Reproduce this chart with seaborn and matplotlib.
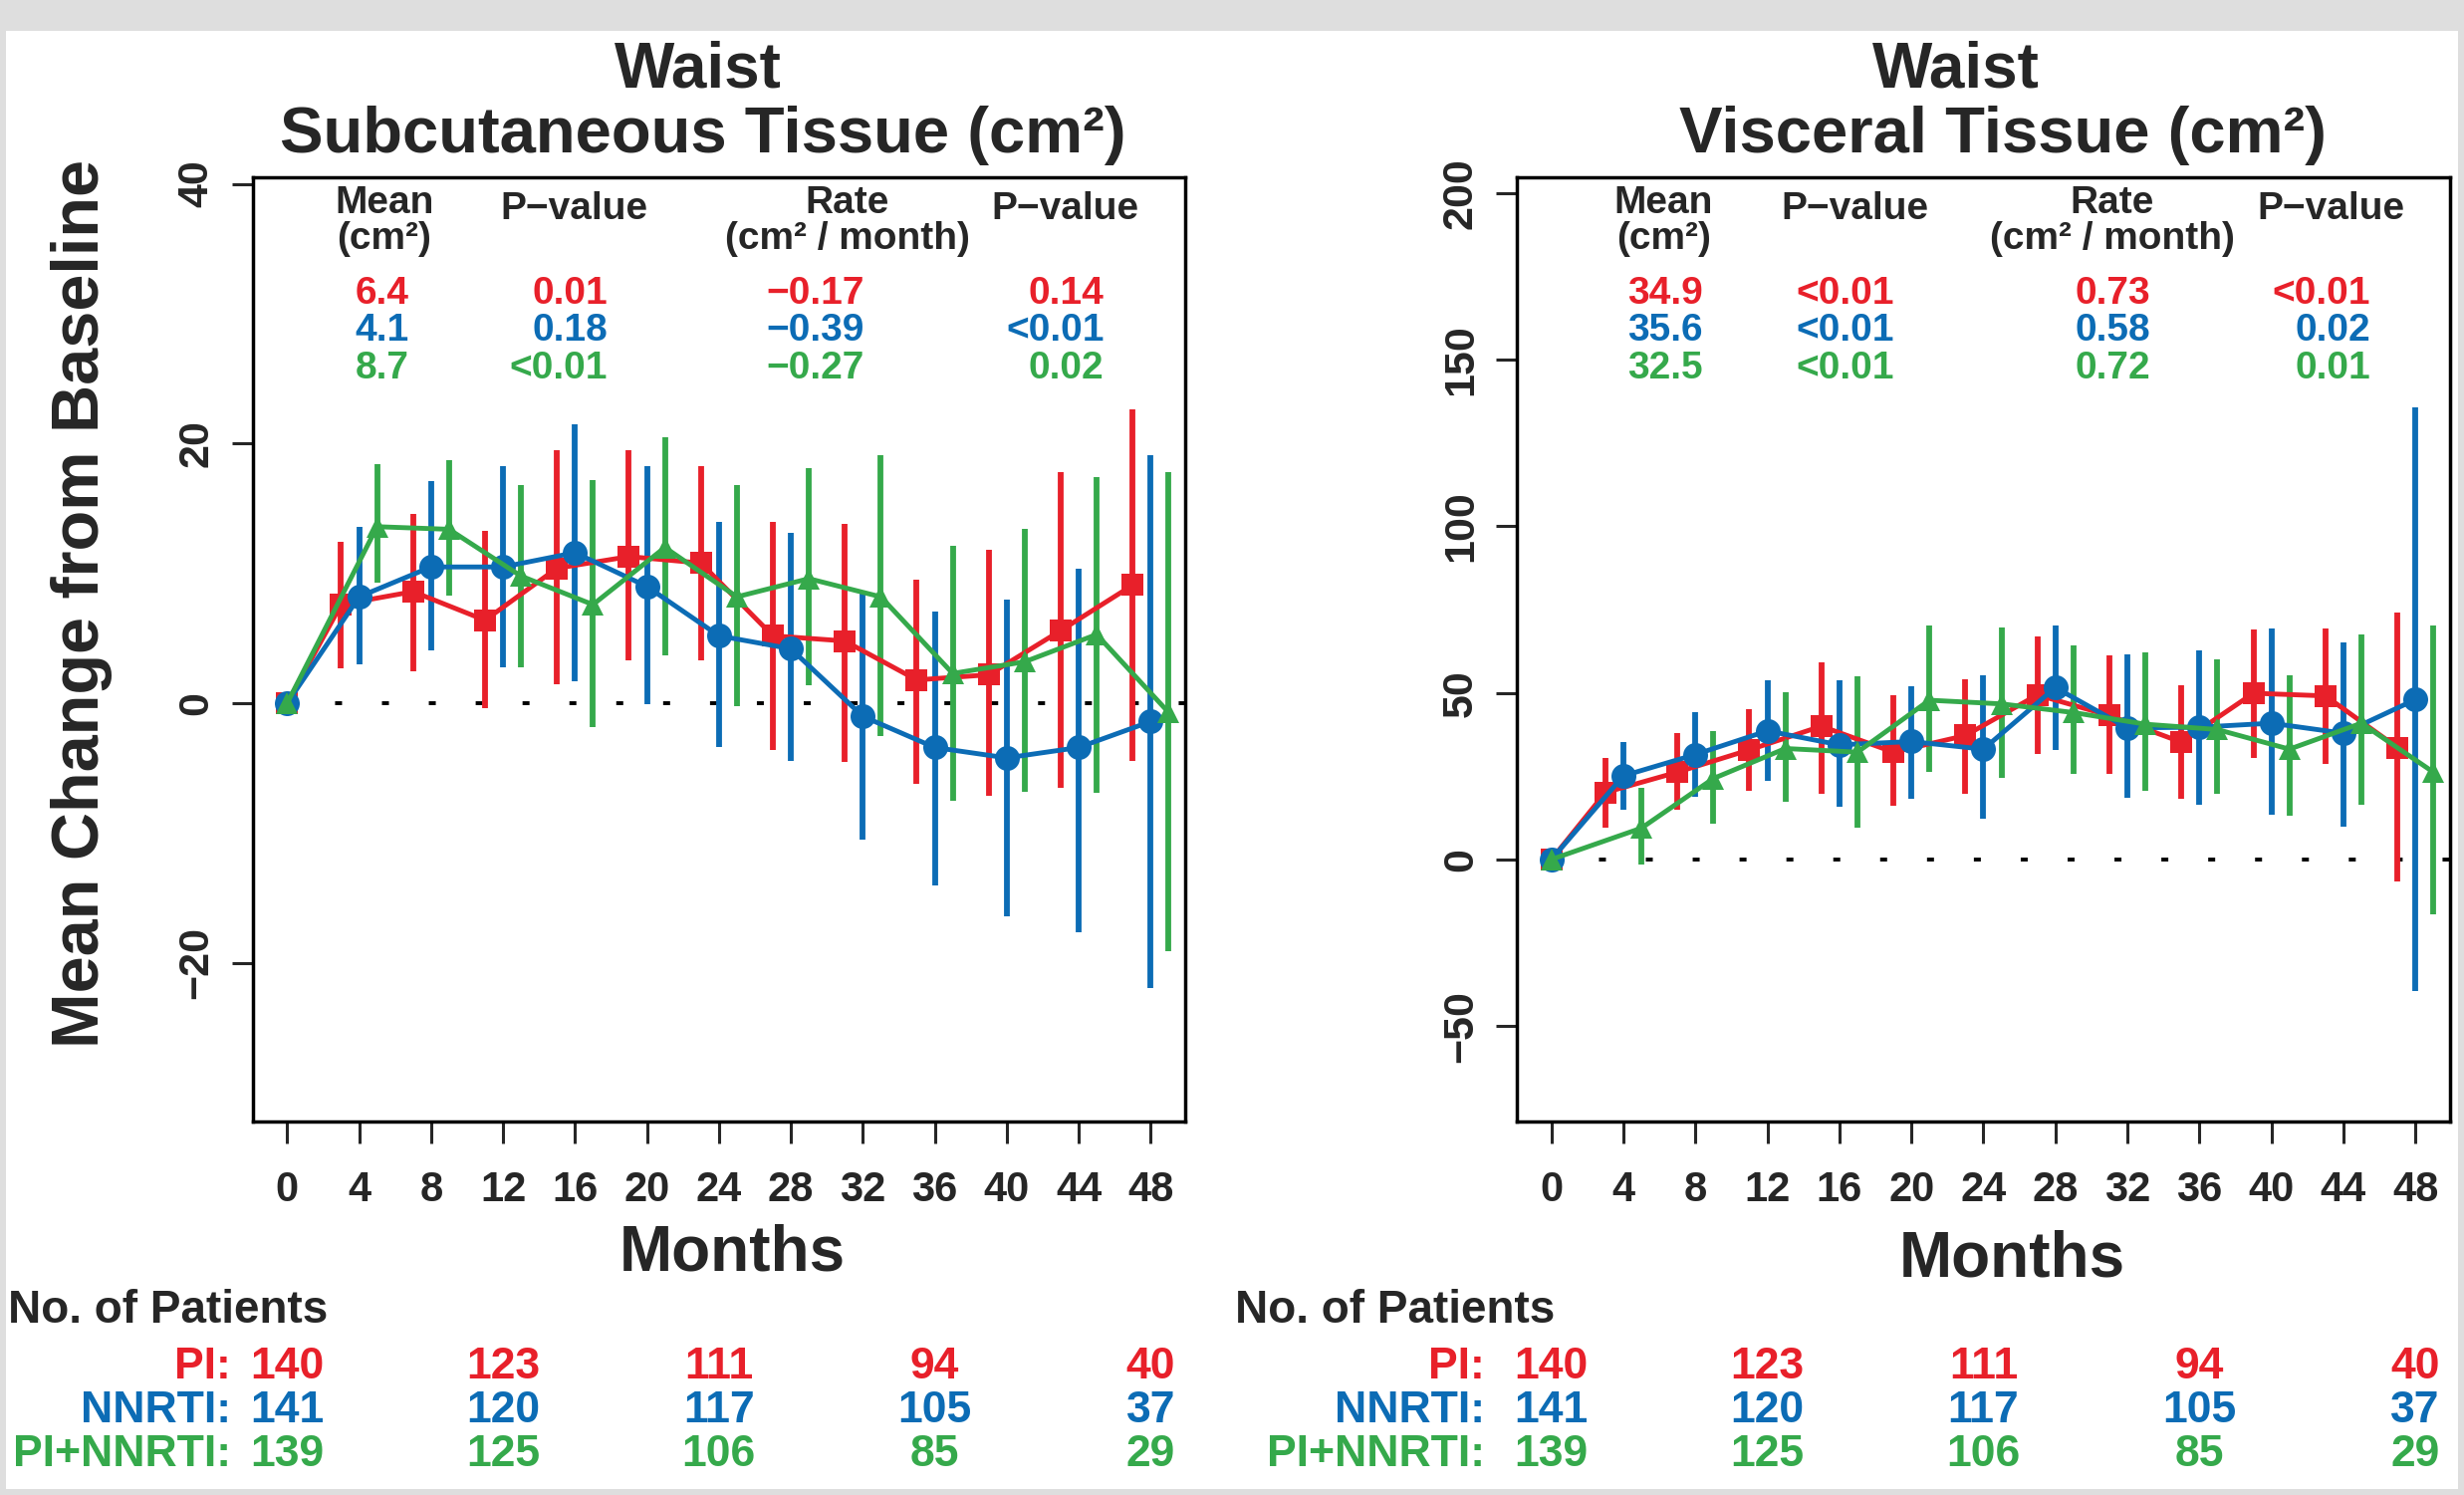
import matplotlib
matplotlib.use('Agg')
import matplotlib.pyplot as plt
import numpy as np
import pandas as pd
import seaborn as sns
from matplotlib.patches import Rectangle
from matplotlib.transforms import blended_transform_factory


sns.set_theme(style='white')
plt.rcParams['font.family'] = ['Liberation Sans', 'DejaVu Sans']
plt.rcParams['font.weight'] = 'bold'
plt.rcParams['axes.unicode_minus'] = True

# 방문 시점(개월)과 그룹 정보
months = [0, 4, 8, 12, 16, 20, 24, 28, 32, 36, 40, 44, 48]
groups = ['PI', 'NNRTI', 'PI+NNRTI']
colors = ['#e8202a', '#0c6cb5', '#35a94b']
markers = ['s', 'o', '^']
shifts = [-1, 0, 1]

# Waist 피하조직 (cm2): 평균과 오차막대 하한/상한
sub_pi_mean = [0, 7.6, 8.6, 6.4, 10.4, 11.3, 10.8, 5.2, 4.8, 1.8, 2.2, 5.6, 9.1]
sub_pi_lo = [0, 2.7, 2.5, -0.4, 1.5, 3.3, 3.3, -3.6, -4.5, -6.2, -7.1, -6.5, -4.4]
sub_pi_hi = [0, 12.4, 14.6, 13.3, 19.5, 19.5, 18.3, 14.0, 13.8, 9.5, 11.8, 17.8, 22.6]
sub_nn_mean = [0, 8.2, 10.5, 10.5, 11.6, 9.0, 5.2, 4.2, -1.0, -3.4, -4.2, -3.4, -1.4]
sub_nn_lo = [0, 3.0, 4.1, 2.8, 1.7, -0.1, -3.4, -4.4, -10.5, -14.0, -16.4, -17.6, -21.9]
sub_nn_hi = [0, 13.6, 17.1, 18.3, 21.5, 18.3, 14.0, 13.1, 8.5, 7.1, 8.0, 10.4, 19.1]
sub_co_mean = [0, 13.6, 13.4, 9.8, 7.6, 12.0, 8.2, 9.6, 8.2, 2.3, 3.2, 5.3, -0.7]
sub_co_lo = [0, 9.3, 8.3, 2.8, -1.8, 3.7, -0.2, 1.4, -2.5, -7.5, -6.8, -6.9, -19.1]
sub_co_hi = [0, 18.4, 18.7, 16.8, 17.2, 20.5, 16.8, 18.1, 19.1, 12.1, 13.4, 17.4, 17.8]

# Waist 내장조직 (cm2)
vis_pi_mean = [0, 20.1, 26.2, 32.9, 40.0, 32.2, 37.2, 49.4, 43.2, 35.2, 49.9, 49.1, 33.6]
vis_pi_lo = [0, 9.6, 14.9, 20.6, 19.8, 16.2, 19.8, 31.7, 25.6, 18.1, 30.6, 28.8, -6.7]
vis_pi_hi = [0, 30.6, 37.9, 45.2, 59.3, 49.3, 54.1, 66.8, 61.2, 52.2, 68.9, 69.4, 74.2]
vis_nn_mean = [0, 25.1, 31.5, 38.6, 34.4, 35.4, 33.1, 51.6, 39.5, 39.7, 40.9, 37.9, 48.0]
vis_nn_lo = [0, 14.9, 18.9, 23.5, 15.8, 18.1, 12.1, 32.8, 18.5, 16.3, 13.3, 9.9, -39.5]
vis_nn_hi = [0, 35.2, 44.3, 53.7, 53.9, 52.1, 55.3, 70.1, 61.6, 62.7, 69.4, 65.3, 135.8]
vis_co_mean = [0, 9.4, 24.3, 33.3, 32.2, 47.8, 46.7, 44.1, 40.6, 39.0, 33.1, 40.9, 26.2]
vis_co_lo = [0, -1.6, 10.7, 17.3, 9.4, 26.4, 24.6, 25.6, 20.6, 19.8, 13.1, 16.5, -16.5]
vis_co_hi = [0, 21.6, 38.6, 50.2, 55.0, 70.1, 69.6, 64.3, 62.1, 60.0, 55.2, 67.5, 70.2]

# 패널 안쪽 통계표
sub_mean_txt = ['6.4', '4.1', '8.7']
sub_p1_txt = ['0.01', '0.18', '<0.01']
sub_rate_txt = ['\u22120.17', '\u22120.39', '\u22120.27']
sub_p2_txt = ['0.14', '<0.01', '0.02']
vis_mean_txt = ['34.9', '35.6', '32.5']
vis_p1_txt = ['<0.01', '<0.01', '<0.01']
vis_rate_txt = ['0.73', '0.58', '0.72']
vis_p2_txt = ['<0.01', '0.02', '0.01']

# 환자 수 표
n_months = [0, 12, 24, 36, 48]
pi_n = [140, 123, 111, 94, 40]
nn_n = [141, 120, 117, 105, 37]
co_n = [139, 125, 106, 85, 29]


def long_frame(means, los, his):
    rows = []
    for g, s, mean, lo, hi in zip(groups, shifts, means, los, his):
        for m, v, l, h in zip(months, mean, lo, hi):
            rows.append({'group': g, 'x': m + s if m > 0 else 0,
                         'mean': v, 'lo': l, 'hi': h})
    return pd.DataFrame(rows)


def draw_panel(ax, df, ylim, yticks, title2, title_x, stats, col_x,
               label_x, xlab_x, xlab_y):
    ax.axhline(0, color='black', lw=2.8, linestyle=(3, (1.8, 10.3)), zorder=1)

    for g, c in zip(groups, colors):
        d = df[df['group'] == g]
        ax.vlines(d['x'], d['lo'], d['hi'], color=c, lw=4.2, zorder=2)

    for g, c, mk in zip(groups, colors, markers):
        d = df[df['group'] == g]
        ms = 18 if mk == 'o' else 15.5
        sns.lineplot(data=d, x='x', y='mean', color=c, marker=mk, markersize=ms,
                     markeredgewidth=0, linewidth=3.5, sort=False,
                     estimator=None, ax=ax, zorder=3)

    ax.set_xlim(-1.92, 49.92)
    ax.set_ylim(*ylim)
    ax.set_xticks(months)
    ax.set_yticks(yticks)
    ax.tick_params(axis='x', length=16, width=2.2, pad=19, labelsize=30,
                   bottom=True, direction='out')
    ax.tick_params(axis='y', length=15, width=2.2, pad=11, labelsize=31,
                   left=True, direction='out', labelrotation=90)
    for t in ax.get_yticklabels():
        t.set_va('center')
    for sp in ax.spines.values():
        sp.set_visible(True)
        sp.set_color('black')
        sp.set_linewidth(2.5)
    ax.set_xlabel('Months', fontsize=46, fontweight='bold')
    ax.xaxis.set_label_coords(xlab_x, xlab_y)
    ax.set_ylabel('')

    # 제목 두 줄
    tf = blended_transform_factory(ax.transAxes, fig.transFigure)
    ax.text(title_x[0], 0.9414, 'Waist', transform=tf, ha='center',
            va='baseline', fontsize=46, fontweight='bold')
    ax.text(title_x[1], 0.898, title2, transform=tf, ha='center',
            va='baseline', fontsize=47, fontweight='bold')

    # 통계표 머리말
    hx = ax.transAxes
    hs = 28
    ax.text(col_x[0], 0.962, 'Mean', transform=hx, ha='center', va='baseline', fontsize=hs)
    ax.text(col_x[0], 0.924, '(cm\u00b2)', transform=hx, ha='center', va='baseline', fontsize=hs)
    ax.text(col_x[1], 0.956, 'P\u2212value', transform=hx, ha='center', va='baseline', fontsize=hs)
    ax.text(col_x[2], 0.962, 'Rate', transform=hx, ha='center', va='baseline', fontsize=hs)
    ax.text(col_x[2], 0.924, '(cm\u00b2 / month)', transform=hx, ha='center', va='baseline', fontsize=hs)
    ax.text(col_x[3], 0.956, 'P\u2212value', transform=hx, ha='center', va='baseline', fontsize=hs)

    row_y = [0.866, 0.827, 0.787]
    for i, c in enumerate(colors):
        ax.text(col_x[4], row_y[i], stats[0][i], transform=hx, ha='center', va='baseline', fontsize=hs, color=c)
        ax.text(col_x[5], row_y[i], stats[1][i], transform=hx, ha='right', va='baseline', fontsize=hs, color=c)
        ax.text(col_x[6], row_y[i], stats[2][i], transform=hx, ha='right', va='baseline', fontsize=hs, color=c)
        ax.text(col_x[7], row_y[i], stats[3][i], transform=hx, ha='right', va='baseline', fontsize=hs, color=c)

    # 환자 수 표 (x는 개월 좌표, y는 그림 좌표)
    tr = blended_transform_factory(ax.transData, fig.transFigure)
    ty = [0.0780, 0.0486, 0.0193]
    for i, (g, c, counts) in enumerate(zip(groups, colors, [pi_n, nn_n, co_n])):
        ax.text(label_x, ty[i], g + ':', transform=tr, ha='right', va='baseline',
                fontsize=32, color=c, clip_on=False)
        for m, n in zip(n_months, counts):
            ax.text(m, ty[i], str(n), transform=tr, ha='center', va='baseline',
                    fontsize=32, color=c, clip_on=False)


fig = plt.figure(figsize=(24.74, 15.01), dpi=100)
fig.patch.set_facecolor('#dedede')
fig.add_artist(Rectangle((0.0024, 0.004), 0.9951, 0.9753, transform=fig.transFigure,
                         facecolor='white', edgecolor='none', zorder=-10))

ax1 = fig.add_axes([0.1025, 0.2498, 0.3785, 0.6316])
ax2 = fig.add_axes([0.6156, 0.2498, 0.3787, 0.6316])

sub_df = long_frame([sub_pi_mean, sub_nn_mean, sub_co_mean],
                    [sub_pi_lo, sub_nn_lo, sub_co_lo],
                    [sub_pi_hi, sub_nn_hi, sub_co_hi])
vis_df = long_frame([vis_pi_mean, vis_nn_mean, vis_co_mean],
                    [vis_pi_lo, vis_nn_lo, vis_co_lo],
                    [vis_pi_hi, vis_nn_hi, vis_co_hi])

draw_panel(ax1, sub_df, (-32.2, 40.5), [-20, 0, 20, 40],
           'Subcutaneous Tissue (cm\u00b2)', (0.478, 0.483),
           [sub_mean_txt, sub_p1_txt, sub_rate_txt, sub_p2_txt],
           [0.141, 0.345, 0.638, 0.871, 0.139, 0.381, 0.656, 0.913],
           -3.14, 0.514, -0.108)
draw_panel(ax2, vis_df, (-78.7, 204.8), [-50, 0, 50, 100, 150, 200],
           'Visceral Tissue (cm\u00b2)', (0.471, 0.521),
           [vis_mean_txt, vis_p1_txt, vis_rate_txt, vis_p2_txt],
           [0.157, 0.362, 0.638, 0.872, 0.159, 0.404, 0.679, 0.915],
           -3.68, 0.531, -0.114)

ax1.set_ylabel('Mean Change from Baseline', fontsize=48, fontweight='bold')
ax1.yaxis.set_label_coords(-0.150, 0.549)

fig.text(0.0032, 0.1153, 'No. of Patients', ha='left', va='baseline', fontsize=33)
fig.text(0.5012, 0.1153, 'No. of Patients', ha='left', va='baseline', fontsize=33)

fig.savefig('out.png', dpi=100, facecolor=fig.get_facecolor())
